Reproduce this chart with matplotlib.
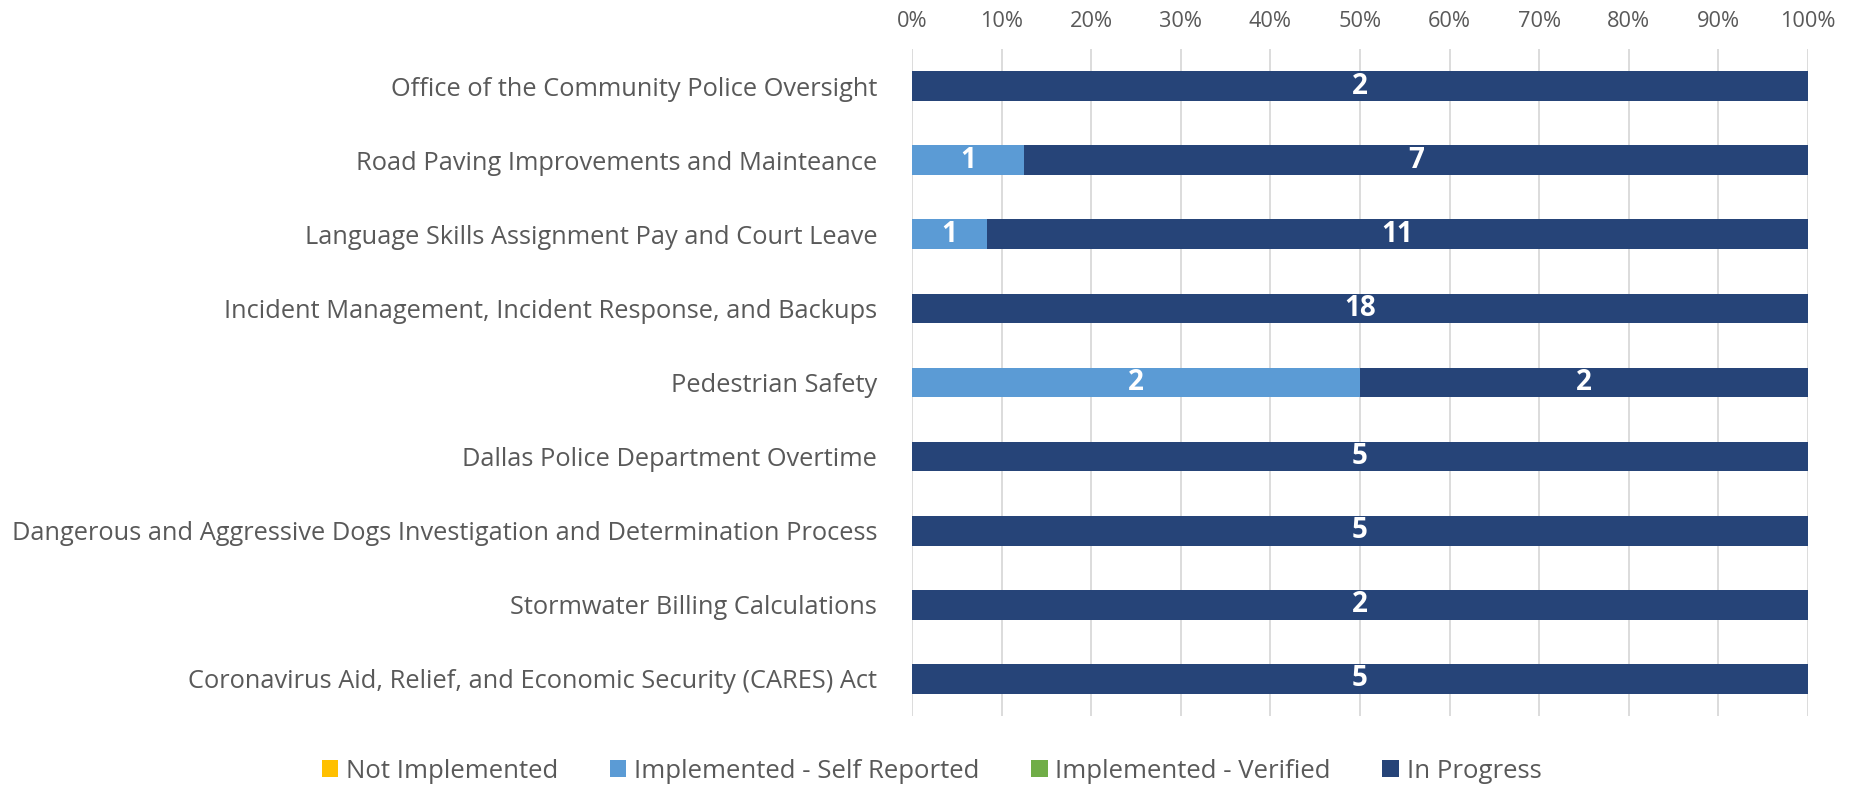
import matplotlib
matplotlib.use("Agg")
import matplotlib.pyplot as plt
import numpy as np
from matplotlib.patches import Patch

categories = [
    "Office of the Community Police Oversight",
    "Road Paving Improvements and Mainteance",
    "Language Skills Assignment Pay and Court Leave",
    "Incident Management, Incident Response, and Backups",
    "Pedestrian Safety",
    "Dallas Police Department Overtime",
    "Dangerous and Aggressive Dogs Investigation and Determination Process",
    "Stormwater Billing Calculations",
    "Coronavirus Aid, Relief, and Economic Security (CARES) Act",
]
series_names = ["Not Implemented", "Implemented - Self Reported",
                "Implemented - Verified", "In Progress"]
not_implemented = [0, 0, 0, 0, 0, 0, 0, 0, 0]
self_reported = [0, 1, 1, 0, 2, 0, 0, 0, 0]
verified = [0, 0, 0, 0, 0, 0, 0, 0, 0]
in_progress = [2, 7, 11, 18, 2, 5, 5, 2, 5]
tick_labels = ["0%", "10%", "20%", "30%", "40%", "50%", "60%", "70%", "80%", "90%", "100%"]

colors = ["#FFC000", "#5B9BD5", "#70AD47", "#264478"]
text_gray = "#595959"
FONT = ["Open Sans", "DejaVu Sans"]
plt.rcParams["font.family"] = FONT

W, H = 1852, 786
fig = plt.figure(figsize=(W / 100, H / 100), dpi=100)
ax = fig.add_axes([912 / W, (786 - 716) / H, 896 / W, 667 / H])

data = np.array([not_implemented, self_reported, verified, in_progress], dtype=float)
totals = data.sum(axis=0)
pct = data / totals * 100
y = np.arange(len(categories))
left = np.zeros(len(categories))
for i, name in enumerate(series_names):
    ax.barh(y, pct[i], left=left, height=0.4, color=colors[i], label=name, zorder=3)
    for j in range(len(categories)):
        if data[i, j] > 0:
            ax.text(left[j] + pct[i, j] / 2, y[j], f"{int(data[i, j])}",
                    ha="center", va="center", color="white", fontsize=20,
                    fontweight="bold", zorder=4)
    left += pct[i]

ax.set_xlim(0, 100)
ax.set_ylim(len(categories) - 0.5, -0.5)
ax.set_xticks(np.arange(0, 101, 10))
ax.set_xticklabels(tick_labels)
ax.xaxis.tick_top()
ax.tick_params(axis="x", length=0, pad=12, labelsize=15.7, labelcolor=text_gray)
ax.set_yticks(y)
ax.set_yticklabels(categories)
ax.tick_params(axis="y", length=0, pad=25, labelsize=18.3, labelcolor=text_gray)
ax.grid(axis="x", color="#D9D9D9", linewidth=1.3, zorder=0)
for s in ax.spines.values():
    s.set_visible(False)

handles = [Patch(facecolor=c, edgecolor="none") for c in colors]
fig.legend(handles, series_names, loc="center", bbox_to_anchor=(0.503, 1 - 771 / H),
           ncol=4, frameon=False, fontsize=18.5, labelcolor=text_gray,
           handlelength=0.65, handleheight=0.65, handletextpad=0.3, columnspacing=2.0)

fig.savefig("out.png", dpi=100)
